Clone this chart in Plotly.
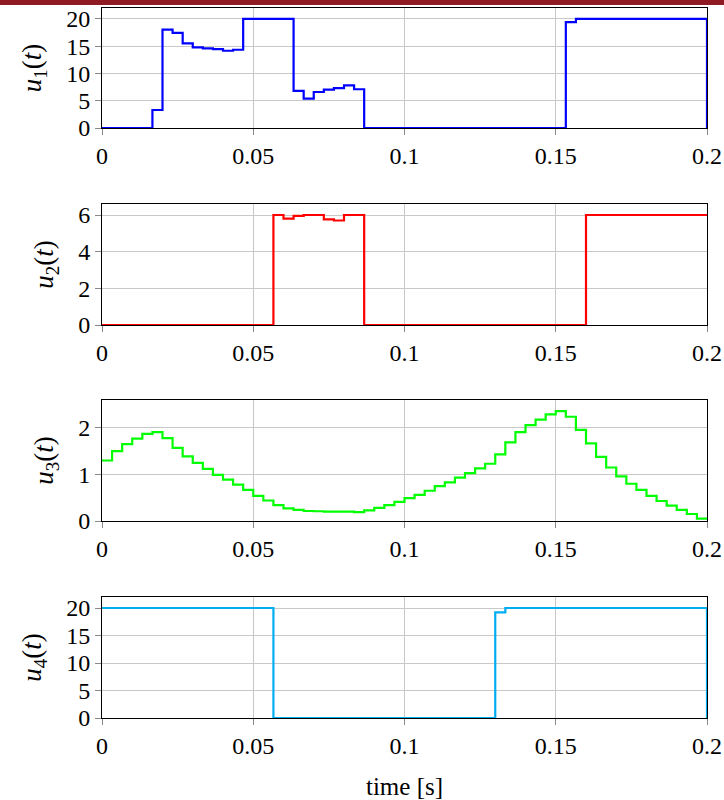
import plotly.graph_objects as go

Ts = 0.2 / 60
t = [round(k * Ts, 6) for k in range(61)]

u1 = ([0.0] * 5 + [3.3, 18.05, 17.45, 15.5, 14.77, 14.6, 14.47, 14.16, 14.35]
      + [20.0] * 5 + [6.8, 5.4, 6.6, 7.05, 7.3, 7.8, 7.1]
      + [0.0] * 20 + [19.4] + [20.0] * 13 + [0.0])
u2 = ([0.0] * 17 + [6.0, 5.8, 5.95, 6.0, 6.0, 5.76, 5.7, 6.0, 6.0]
      + [0.0] * 22 + [6.0] * 13 + [0.0])
u3 = [1.30, 1.50, 1.65, 1.77, 1.87, 1.91, 1.78, 1.57, 1.39, 1.25,
      1.12, 0.99, 0.89, 0.78, 0.67, 0.54, 0.44, 0.34, 0.27, 0.24,
      0.215, 0.21, 0.20, 0.20, 0.20, 0.19, 0.23, 0.28, 0.34, 0.41,
      0.49, 0.56, 0.65, 0.75, 0.83, 0.93, 1.03, 1.13, 1.23, 1.43,
      1.69, 1.91, 2.06, 2.18, 2.29, 2.36, 2.24, 1.96, 1.67, 1.38,
      1.15, 0.96, 0.80, 0.67, 0.54, 0.43, 0.33, 0.24, 0.15, 0.05, 0.05]
u4 = ([20.0] * 17 + [0.0] * 22 + [19.2] + [20.0] * 20 + [0.0])

series = [u1, u2, u3, u4]
colors = ["#0000FF", "#FF0000", "#00FF00", "#00AEEF"]
titles = ["<i>u</i><sub>1</sub>(<i>t</i>)", "<i>u</i><sub>2</sub>(<i>t</i>)",
          "<i>u</i><sub>3</sub>(<i>t</i>)", "<i>u</i><sub>4</sub>(<i>t</i>)"]
yranges = [[0, 22], [0, 6.6], [0, 2.6], [0, 22]]
ytickvals = [[0, 5, 10, 15, 20], [0, 2, 4, 6], [0, 1, 2], [0, 5, 10, 15, 20]]
xticks = [0, 0.05, 0.1, 0.15, 0.2]
xticktext = ["0", "0.05", "0.1", "0.15", "0.2"]

H_TOP, H_BOT = 8, 718
panels = [(8, 128), (204, 325), (400, 521), (597, 718)]
def py(v):
    return (H_BOT - v) / (H_BOT - H_TOP)

font = "Liberation Serif, DejaVu Serif, serif"
fig = go.Figure()
layout = dict(
    width=724, height=800,
    margin=dict(l=102, r=17, t=H_TOP, b=800 - H_BOT),
    paper_bgcolor="white", plot_bgcolor="white",
    showlegend=False,
    font=dict(family=font, size=24, color="black"),
)
for i in range(4):
    xa = "x" if i == 0 else f"x{i+1}"
    ya = "y" if i == 0 else f"y{i+1}"
    fig.add_trace(go.Scatter(x=t, y=series[i], mode="lines", line_shape="hv",
                             line=dict(color=colors[i], width=2.2),
                             xaxis=xa, yaxis=ya, hoverinfo="skip"))
    top, bot = panels[i]
    axcommon = dict(showline=True, linecolor="black", linewidth=1, mirror=True,
                    showgrid=True, gridcolor="#c8c8c8", gridwidth=1,
                    ticks="outside", ticklen=6, tickcolor="#888888",
                    tickfont=dict(family=font, size=24, color="black"),
                    zeroline=False, automargin=False)
    layout["xaxis" if i == 0 else f"xaxis{i+1}"] = dict(
        domain=[0, 1], anchor=ya, range=[0, 0.2], tickvals=xticks,
        ticktext=xticktext, **axcommon)
    layout["yaxis" if i == 0 else f"yaxis{i+1}"] = dict(
        domain=[py(bot), py(top)], anchor=xa, range=yranges[i],
        tickvals=ytickvals[i],
        title=dict(text=titles[i], font=dict(family=font, size=27), standoff=16),
        **axcommon)
layout["xaxis4"]["title"] = dict(text="time [s]", font=dict(family=font, size=25), standoff=20)
fig.update_layout(**layout)
fig.add_shape(type="rect", xref="paper", yref="paper", x0=-0.2, x1=1.1,
              y0=1 + 3.0 / (H_BOT - H_TOP),
              y1=1 + 20.0 / (H_BOT - H_TOP),
              fillcolor="#8E1B22", line_width=0, layer="above")
fig.write_html("out.html")
